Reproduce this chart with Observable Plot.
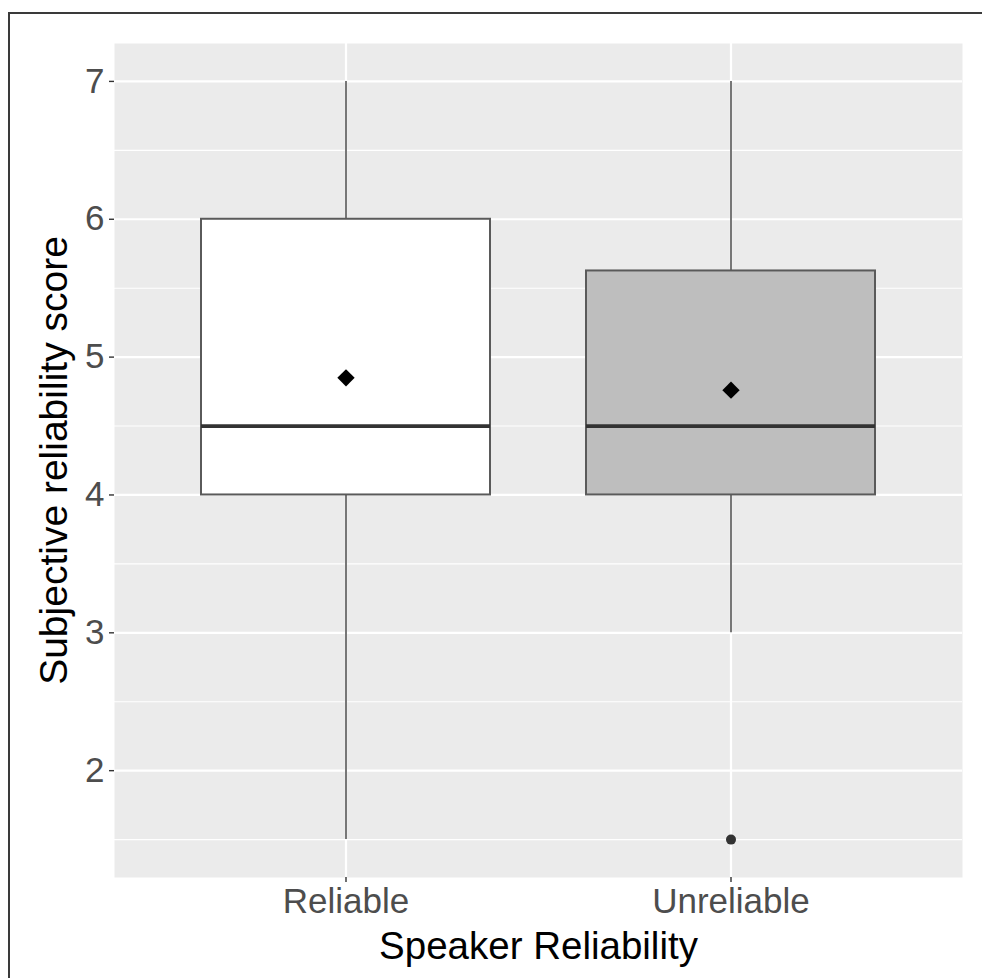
<!DOCTYPE html>
<html>
<head>
<meta charset="utf-8">
<script src="https://cdn.jsdelivr.net/npm/d3@7"></script>
<script src="https://cdn.jsdelivr.net/npm/@observablehq/plot@0.6"></script>
<style>
html, body { margin: 0; padding: 0; background: #fff; }
#wrap { position: relative; width: 982px; height: 978px; overflow: hidden; }
#wrap::before { content: ""; position: absolute; left: 8px; top: 12px; right: -4px; bottom: -4px;
  border-left: 2px solid #3a3a3a; border-top: 2px solid #3a3a3a; pointer-events: none; }
svg { display: block; }
</style>
</head>
<body>
<div id="wrap"></div>
<script>
// ---- data ----
const categories   = ["Reliable", "Unreliable"];
const lowerWhisker = [1.5, 3];
const q1           = [4, 4];
const median       = [4.5, 4.5];
const q3           = [6, 5.625];
const upperWhisker = [7, 7];
const means        = [4.85, 4.76];
const boxFills     = ["#FFFFFF", "#BEBEBE"];
const outlierGroup = ["Unreliable"];
const outlierValue = [1.5];
const yTicks       = [2, 3, 4, 5, 6, 7];
const yMinorTicks  = [1.5, 2.5, 3.5, 4.5, 5.5, 6.5];
const xTitle = "Speaker Reliability";
const yTitle = "Subjective reliability score";

const rows = categories.map((c, i) => ({
  group: c, lo: lowerWhisker[i], q1: q1[i], med: median[i], q3: q3[i],
  hi: upperWhisker[i], mean: means[i], fill: boxFills[i]
}));
const outliers = outlierGroup.map((g, i) => ({group: g, value: outlierValue[i]}));

const chart = Plot.plot({
  width: 982,
  height: 978,
  marginLeft: 114,
  marginRight: 20,
  marginTop: 43,
  marginBottom: 101,
  style: {fontFamily: "'Liberation Sans', Arial, Helvetica, sans-serif", background: "transparent"},
  x: {type: "band", domain: categories, paddingInner: 0.25, paddingOuter: 0.225},
  y: {domain: [1.225, 7.275]},
  color: {type: "identity"},
  marks: [
    Plot.frame({fill: "#EBEBEB", stroke: null}),
    Plot.ruleY(yMinorTicks, {stroke: "#FFFFFF", strokeWidth: 1.1}),
    Plot.ruleY(yTicks, {stroke: "#FFFFFF", strokeWidth: 2.2}),
    Plot.ruleX(categories, {x: d => d, stroke: "#FFFFFF", strokeWidth: 2.2}),
    Plot.ruleX(rows, {x: "group", y1: "lo", y2: "hi", stroke: "#555555", strokeWidth: 1.6}),
    Plot.barY(rows, {x: "group", y1: "q1", y2: "q3", fill: "fill", stroke: "#5a5a5a", strokeWidth: 2}),
    Plot.tickY(rows, {x: "group", y: "med", stroke: "#333333", strokeWidth: 3.8}),
    Plot.dot(rows, {x: "group", y: "mean", symbol: "diamond2", r: 7.8, fill: "#000000", stroke: null}),
    Plot.dot(outliers, {x: "group", y: "value", r: 5, fill: "#333333", stroke: null}),
    Plot.axisY({ticks: yTicks, tickFormat: d3.format("d"), tickSize: 5, tickPadding: 5, fontSize: 35, fill: "#4D4D4D", stroke: "#333333", strokeWidth: 1.4, label: null}),
    Plot.axisX({tickSize: 5, tickPadding: 6, fontSize: 35, fill: "#4D4D4D", stroke: "#333333", strokeWidth: 1.4, label: null}),
    Plot.text([yTitle], {text: d => d, frameAnchor: "left", dx: -60, rotate: -90, fontSize: 39, fill: "#000000", textAnchor: "middle", lineAnchor: "middle"}),
    Plot.text([xTitle], {text: d => d, frameAnchor: "bottom", dy: 69, fontSize: 38.5, fill: "#000000", textAnchor: "middle", lineAnchor: "middle"})
  ]
});
document.getElementById("wrap").appendChild(chart);
</script>
</body>
</html>
